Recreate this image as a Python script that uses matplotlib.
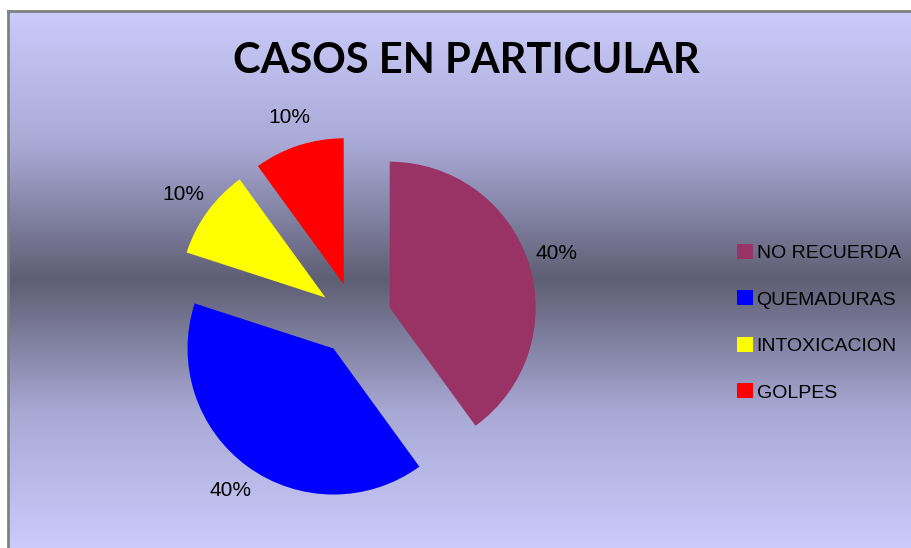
import numpy as np
import matplotlib
matplotlib.use('Agg')
from matplotlib import pyplot as plt
from matplotlib.colors import LinearSegmentedColormap

plt.rcParams['font.family'] = ['Liberation Sans', 'DejaVu Sans']

labels = ['NO RECUERDA', 'QUEMADURAS', 'INTOXICACION', 'GOLPES']
values = [40, 40, 10, 10]
colors = ['#993366', '#0000FF', '#FFFF00', '#FF0000']
title = 'CASOS EN PARTICULAR'

W, H = 912, 548
fig = plt.figure(figsize=(W / 100, H / 100), dpi=100)
fig.patch.set_facecolor('white')

# background panel with vertical gradient (light - dark - light)
bg = fig.add_axes([8 / W, 0, (W - 8) / W, (H - 11) / H])
cmap = LinearSegmentedColormap.from_list('bg', ['#CBCBFB', '#A9A9D6', '#5E5E74', '#A9A9D6', '#CBCBFB'])
grad = np.linspace(0, 1, 256).reshape(-1, 1)
bg.imshow(grad, aspect='auto', cmap=cmap, extent=[0, 1, 0, 1], origin='lower')
bg.set_xticks([])
bg.set_yticks([])
for side in ['right', 'bottom']:
    bg.spines[side].set_visible(False)
for side in ['left', 'top']:
    bg.spines[side].set_color('#808080')
    bg.spines[side].set_linewidth(2)

# pie axes: radius 1 ~ 146 px, centre at (355, 319) px from top-left
r_px = 146
cx, cy = 355, H - 319
half = 1.6 * r_px
ax = fig.add_axes([(cx - half) / W, (cy - half) / H, 2 * half / W, 2 * half / H])
ax.set_axis_off()
ax.patch.set_alpha(0)

wedges, texts, autotexts = ax.pie(values, colors=colors, startangle=90, counterclock=False,
                                  explode=[0.25] * 4, autopct='%1.0f%%', pctdistance=1.2,
                                  textprops={'fontsize': 15, 'color': 'black'})
for w in wedges:
    w.set_clip_on(False)
ax.set_xlim(-1.6, 1.6)
ax.set_ylim(-1.6, 1.6)
ax.set_aspect('equal')

fig.text(466 / W, 1 - 61 / H, title, ha='center', va='center', fontsize=30,
         fontweight='bold', family=['Lato', 'Liberation Sans'])

leg = fig.legend(wedges, labels, loc='upper left', bbox_to_anchor=(727 / W, 1 - 234 / H),
                 frameon=False, fontsize=14, handlelength=0.82, handleheight=0.82,
                 handletextpad=0.2, labelspacing=1.45, borderpad=0)

fig.savefig('out.png', dpi=100)
